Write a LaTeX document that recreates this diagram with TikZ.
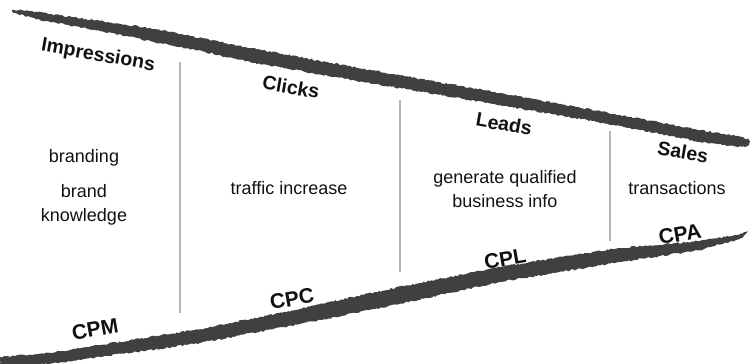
\documentclass[tikz,border=0pt]{standalone}
\usepackage{fontspec}
\setmainfont{Liberation Sans}
\usetikzlibrary{decorations.pathmorphing}
\definecolor{bandgray}{HTML}{404040}
\definecolor{dividergray}{HTML}{B4B4B4}
\definecolor{inkblack}{HTML}{111111}
\begin{document}
\begin{tikzpicture}[x=1pt,y=-1pt,
  stage/.style={font=\fontsize{19.5}{22}\selectfont\bfseries, text=inkblack, rotate=-10, inner sep=0pt},
  cost/.style={font=\fontsize{21}{24}\selectfont\bfseries, text=inkblack, rotate=10, inner sep=0pt},
  desc/.style={font=\fontsize{18}{23.5}\selectfont, text=inkblack, align=center, inner sep=0pt},
  divider/.style={draw=dividergray, line width=1.5pt},
  brush/.style={fill=bandgray, decorate, decoration={random steps, segment length=2pt, amplitude=0.9pt}}]
\useasboundingbox (0,0) rectangle (750,364);
\pgfmathsetseed{7}
% top brush stroke
\path[brush] (12,10) -- (30,11) -- (50,14) -- (100,21) -- (150,28) -- (250,48) -- (375,71) -- (500,93)
  -- (620,115) -- (700,130) -- (742,137) -- (749,140) -- (749,145) -- (742,147) -- (700,142)
  -- (620,126) -- (500,105) -- (375,84) -- (250,62) -- (195,50) -- (150,41) -- (100,31)
  -- (50,22) -- (30,17) -- (14,13) -- cycle;
% bottom brush stroke
\path[brush] (0,357) -- (50,353) -- (100,345) -- (200,329) -- (300,309) -- (375,292) -- (500,267)
  -- (620,248) -- (700,241) -- (735,235) -- (748,231) -- (742,238) -- (700,250) -- (620,262)
  -- (500,282) -- (375,309) -- (300,324) -- (200,343) -- (100,357) -- (50,364) -- (0,366) -- cycle;
% dividers
\coordinate (d1t) at (180,62);  \coordinate (d1b) at (180,313);
\coordinate (d2t) at (400,100); \coordinate (d2b) at (400,272);
\coordinate (d3t) at (610,131); \coordinate (d3b) at (610,241);
\draw[divider] (d1t) -- (d1b);
\draw[divider] (d2t) -- (d2b);
\draw[divider] (d3t) -- (d3b);
% stage labels
\node[stage] (impr) at (98,56) {Impressions};
\node[stage] (clicks) at (291,87) {Clicks};
\node[stage] (leads) at (504,124) {Leads};
\node[stage] (sales) at (683,152) {Sales};
% cost labels
\node[cost] (cpm) at (95,329) {CPM};
\node[cost] (cpc) at (292,299) {CPC};
\node[cost] (cpl) at (505,259) {CPL};
\node[cost] (cpa) at (680,234) {CPA};
% descriptions
\node[desc] (brandg) at (84,158) {branding};
\node[desc] (brandk) at (84,205) {brand\\knowledge};
\node[desc] (traffic) at (289,188) {traffic increase};
\node[desc] (generate) at (505,189) {generate qualified\\business info};
\node[desc] (trans) at (677,188) {transactions};
\end{tikzpicture}
\end{document}
